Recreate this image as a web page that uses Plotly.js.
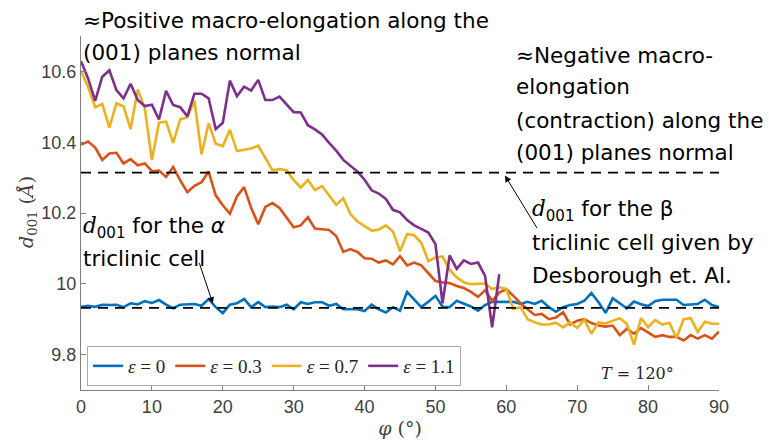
<!DOCTYPE html>
<html>
<head>
<meta charset="utf-8">
<script src="https://cdn.plot.ly/plotly-3.0.1.min.js"></script>
<style>html,body{margin:0;padding:0;background:#fff;}#chart{width:769px;height:446px;}</style>
</head>
<body>
<div id="chart"></div>
<script>
// ---- data ----
const phi = Array.from({length: 91}, (_, i) => i);
const phiPurple = phi.slice(0, 60);

const eps0 = [9.935,9.938,9.935,9.941,9.940,9.941,9.934,9.945,9.942,9.951,9.946,9.954,9.941,9.931,9.941,9.941,9.943,9.938,9.957,9.934,
9.917,9.941,9.945,9.957,9.934,9.948,9.934,9.936,9.934,9.941,9.928,9.948,9.943,9.948,9.948,9.938,9.943,9.928,9.928,9.928,
9.923,9.941,9.928,9.919,9.934,9.924,9.977,9.955,9.934,9.949,9.966,9.935,9.934,9.952,9.943,9.936,9.924,9.940,9.949,9.949,
9.947,9.949,9.943,9.949,9.943,9.952,9.934,9.921,9.934,9.940,9.943,9.952,9.974,9.948,9.918,9.959,9.945,9.931,9.950,9.942,
9.937,9.951,9.955,9.955,9.955,9.940,9.942,9.943,9.955,9.940,9.934];

const eps03 = [10.393,10.402,10.385,10.350,10.368,10.370,10.340,10.352,10.335,10.340,10.318,10.320,10.302,10.330,10.292,10.259,10.277,10.287,10.317,10.250,
10.222,10.198,10.247,10.273,10.215,10.168,10.217,10.228,10.214,10.186,10.160,10.165,10.188,10.156,10.153,10.152,10.135,10.090,10.098,10.090,
10.072,10.071,10.060,10.066,10.055,10.078,10.052,10.060,10.052,10.030,10.008,10.004,10.002,9.994,9.988,9.977,9.963,9.982,9.952,9.975,
9.985,9.966,9.945,9.928,9.912,9.915,9.900,9.905,9.920,9.885,9.896,9.900,9.889,9.882,9.879,9.882,9.855,9.873,9.859,9.875,
9.862,9.850,9.855,9.850,9.850,9.840,9.855,9.845,9.855,9.845,9.865];

const eps07 = [10.602,10.556,10.499,10.508,10.441,10.510,10.501,10.437,10.549,10.496,10.350,10.455,10.458,10.398,10.465,10.470,10.518,10.366,10.453,10.396,
10.389,10.435,10.375,10.378,10.382,10.390,10.355,10.321,10.324,10.321,10.293,10.272,10.293,10.265,10.276,10.250,10.223,10.242,10.197,10.176,
10.162,10.150,10.153,10.165,10.148,10.092,10.141,10.137,10.116,10.064,10.074,10.077,10.040,10.018,10.004,9.999,10.000,10.001,9.985,9.990,
9.985,9.929,9.934,9.900,9.891,9.885,9.885,9.890,9.877,9.891,9.875,9.898,9.859,9.891,9.888,9.896,9.903,9.887,9.828,9.903,
9.877,9.898,9.885,9.890,9.847,9.900,9.903,9.864,9.893,9.887,9.887];

const eps11 = [10.629,10.580,10.517,10.585,10.603,10.547,10.524,10.565,10.519,10.502,10.506,10.464,10.545,10.505,10.499,10.473,10.537,10.537,10.524,10.437,
10.455,10.574,10.530,10.557,10.546,10.576,10.519,10.519,10.529,10.506,10.485,10.484,10.448,10.436,10.422,10.398,10.376,10.350,10.334,10.317,
10.294,10.264,10.255,10.240,10.209,10.202,10.180,10.165,10.155,10.145,10.112,9.945,10.080,10.042,10.066,10.056,10.060,10.022,9.877,10.027];

const dAlpha = 9.932;   // d001 for the alpha triclinic cell
const dBeta = 10.314;   // d001 for the beta triclinic cell (Desborough et al.)

const seriesNames = ['<i>ε</i> = 0', '<i>ε</i> = 0.3', '<i>ε</i> = 0.7', '<i>ε</i> = 1.1'];
const seriesColors = ['#0072BD', '#D95319', '#EDB120', '#7E2F8E'];
const xTicks = [0,10,20,30,40,50,60,70,80,90];
const yTicks = [9.8, 10, 10.2, 10.4, 10.6];
const yTickText = ['9.8', '10', '10.2', '10.4', '10.6'];

// ---- layout helpers ----
const L = 81, R = 719, T = 36, B = 390;
function px(x) { return (x - L) / (R - L); }
function py(y) { return (B - y) / (B - T); }

const serif = '"DejaVu Serif", "Liberation Serif", serif';
const textFont = '"DejaVu Sans", sans-serif';
const annFont = {family: textFont, size: 21.5, color: '#000'};

const traces = [];
const xs = [phi, phi, phi, phiPurple];
const ys = [eps0, eps03, eps07, eps11];
for (let i = 0; i < 4; i++) {
  traces.push({x: xs[i], y: ys[i], type: 'scatter', mode: 'lines', name: seriesNames[i],
    line: {color: seriesColors[i], width: 2.6}});
}
traces.push({x: [0, 90], y: [dBeta, dBeta], mode: 'lines', showlegend: false, hoverinfo: 'skip',
  line: {color: '#000', width: 1.8, dash: '10px,7px'}});
traces.push({x: [0, 90], y: [dAlpha, dAlpha], mode: 'lines', showlegend: false, hoverinfo: 'skip',
  line: {color: '#000', width: 1.8, dash: '10px,7px'}});

function txt(text, x, y, font) {
  return {text: text, xref: 'paper', yref: 'paper', x: px(x), y: py(y), xanchor: 'left', yanchor: 'middle',
    showarrow: false, font: font || annFont, borderpad: 0};
}
const dsym = '<span style="font-family:' + "'DejaVu Serif'" + '"><i>d</i></span><sub>001</sub>';

const annotations = [
  txt('≈Positive macro-elongation along the', 82, 21),
  txt('(001) planes normal', 82, 53),
  txt('≈Negative macro-', 515, 55),
  txt('elongation', 515, 87),
  txt('(contraction) along the', 515, 120),
  txt('(001) planes normal', 515, 152),
  txt(dsym + ' for the <i>α</i>', 82, 227),
  txt('triclinic cell', 82, 258),
  txt(dsym + ' for the β', 531, 210),
  txt('triclinic cell given by', 531, 242),
  txt('Desborough et. Al.', 531, 275),
  {text: '<i>T</i> = 120°', xref: 'paper', yref: 'paper', x: px(637), y: py(373), xanchor: 'center', yanchor: 'middle',
    showarrow: false, font: {family: serif, size: 16, color: '#262626'}},
  // y-axis title
  {text: '<i>d</i><sub>001</sub> (<i>Å</i>)', xref: 'paper', yref: 'paper', x: px(27), y: py(212),
    xanchor: 'center', yanchor: 'middle', textangle: -90, showarrow: false,
    font: {family: serif, size: 19, color: '#404040'}},
  // arrows
  {text: '', x: 18.6, y: dAlpha + 0.012, xref: 'x', yref: 'y', showarrow: true, ax: -14, ay: -42,
    arrowhead: 2, arrowsize: 1.3, arrowwidth: 1, arrowcolor: '#000'},
  {text: '', x: 59.8, y: dBeta - 0.008, xref: 'x', yref: 'y', showarrow: true, ax: 33, ay: 54,
    arrowhead: 2, arrowsize: 1.3, arrowwidth: 1, arrowcolor: '#000'}
];

const layout = {
  width: 769, height: 446,
  margin: {l: L, r: 769 - R, t: T, b: 446 - B},
  paper_bgcolor: '#fff', plot_bgcolor: '#fff',
  showlegend: true,
  legend: {orientation: 'h', x: px(87), xanchor: 'left', y: py(386), yanchor: 'bottom',
    bgcolor: '#fff', bordercolor: '#aaaaaa', borderwidth: 1,
    font: {family: '"Liberation Serif", serif', size: 19, color: '#262626'}, itemwidth: 30, tracegroupgap: 0},
  xaxis: {range: [0, 90], tickvals: xTicks, ticks: 'inside', ticklen: 5, tickcolor: '#808080',
    showline: true, linecolor: '#808080', linewidth: 1, showgrid: false, zeroline: false,
    tickfont: {family: '"Liberation Sans", Arial, sans-serif', size: 18, color: '#404040'},
    title: {text: '<i>φ</i> (°)', font: {family: serif, size: 19, color: '#404040'}, standoff: 6}},
  yaxis: {range: [9.7, 10.7], tickvals: yTicks, ticktext: yTickText, ticks: 'inside', ticklen: 5, tickcolor: '#808080',
    showline: true, linecolor: '#808080', linewidth: 1, showgrid: false, zeroline: false,
    tickfont: {family: '"Liberation Sans", Arial, sans-serif', size: 18, color: '#404040'}},
  annotations: annotations
};

Plotly.newPlot('chart', traces, layout, {displayModeBar: false, staticPlot: true});
</script>
</body>
</html>
